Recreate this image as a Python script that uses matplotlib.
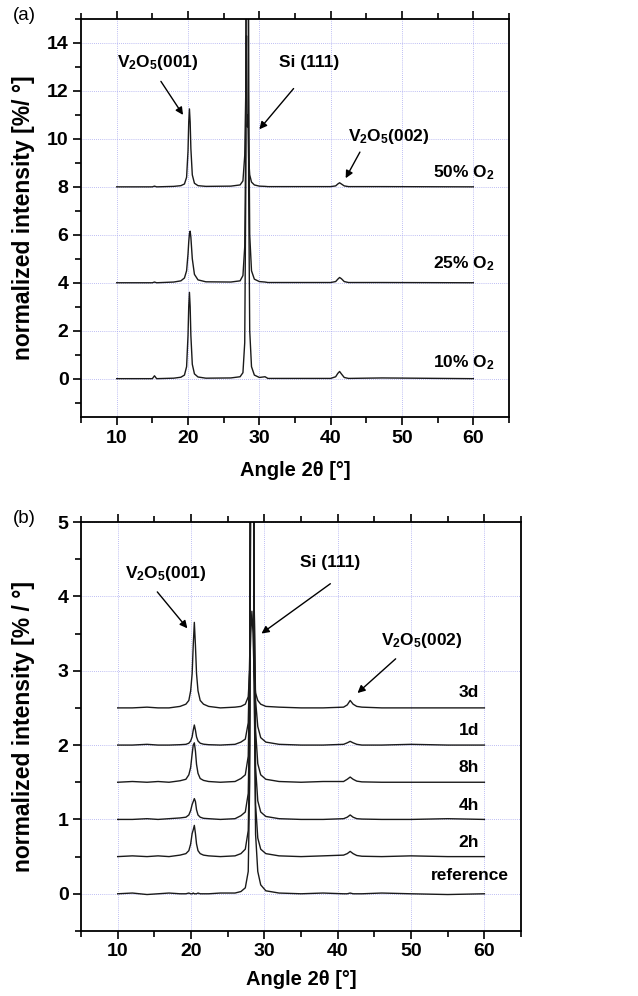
import matplotlib.pyplot as plt
from matplotlib.ticker import MultipleLocator

plt.rcParams['font.family'] = ['Liberation Sans', 'DejaVu Sans']
plt.rcParams['font.weight'] = 'bold'
plt.rcParams['axes.labelweight'] = 'bold'
plt.rcParams['mathtext.fontset'] = 'custom'
plt.rcParams['mathtext.rm'] = 'Liberation Sans:bold'
plt.rcParams['mathtext.it'] = 'Liberation Sans:bold'
plt.rcParams['mathtext.bf'] = 'Liberation Sans:bold'

# (a) films grown at different O2 partial pressure
angle_a = [10.0, 15.0, 15.3, 15.6, 18.0, 19.0, 19.5, 19.8, 20.0, 20.1, 20.2, 20.3, 20.4,
           20.6, 20.9, 21.4, 22.5, 26.0, 27.3, 27.7, 27.95, 28.1, 28.2, 28.3, 28.4, 28.5,
           28.65, 28.9, 29.3, 30.0, 30.8, 31.2, 40.0, 40.7, 41.0, 41.25, 41.5, 41.9, 42.5,
           47.2, 60.0]
o2_10 = [0, 0, 0.12, 0, 0.02, 0.06, 0.15, 0.5, 1.8, 3.0, 3.6, 3.0, 1.8,
         0.6, 0.2, 0.07, 0.02, 0.03, 0.08, 0.25, 1.5, 8.0, 30.0, 60.0, 30.0, 8.0,
         2.0, 0.5, 0.15, 0.05, 0.08, 0.01, 0.01, 0.08, 0.22, 0.3, 0.2, 0.05, 0.01,
         0.03, 0.0]
o2_25 = [0, 0, 0.03, 0, 0.03, 0.08, 0.2, 0.5, 1.2, 1.7, 2.05, 2.15, 1.9,
         1.0, 0.35, 0.12, 0.04, 0.03, 0.08, 0.3, 1.5, 6.0, 20.0, 40.0, 25.0, 8.0,
         2.0, 0.5, 0.15, 0.05, 0.03, 0.01, 0.01, 0.05, 0.15, 0.22, 0.17, 0.05, 0.01,
         0.01, 0.0]
o2_50 = [0, 0, 0.03, 0, 0.02, 0.05, 0.12, 0.4, 1.5, 2.7, 3.25, 2.7, 1.6,
         0.5, 0.15, 0.05, 0.02, 0.03, 0.08, 0.25, 1.3, 4.0, 6.3, 2.5, 3.0, 1.2,
         0.5, 0.2, 0.08, 0.03, 0.02, 0.01, 0.01, 0.04, 0.12, 0.17, 0.12, 0.04, 0.01,
         0.01, 0.0]
curves_a = [o2_10, o2_25, o2_50]
offsets_a = [0, 4, 8]
names_a = [r'10% O$_{2}$', r'25% O$_{2}$', r'50% O$_{2}$']
name_y_a = [0.68, 4.8, 8.6]

# (b) annealing series
angle_b = [10.0, 12.0, 14.0, 15.5, 17.0, 18.5, 19.3, 19.7, 19.95, 20.15, 20.3, 20.45,
           20.6, 20.75, 20.95, 21.25, 21.7, 22.4, 24.0, 26.0, 26.8, 27.4, 27.8, 28.0,
           28.15, 28.3, 28.45, 28.6, 28.8, 29.1, 29.5, 30.2, 32.0, 35.0, 38.0, 40.8,
           41.3, 41.7, 42.1, 42.6, 43.3, 46.0, 50.0, 55.0, 60.0]
t_ref = [0.0, 0.01, -0.01, 0.0, 0.01, 0.0, 0.0, 0.01, 0.0, 0.0, 0.01, 0.0,
         0.0, 0.0, 0.01, 0.0, 0.0, 0.0, 0.01, 0.01, 0.03, 0.08, 0.3, 1.5,
         6.0, 20.0, 12.0, 3.0, 0.8, 0.3, 0.12, 0.04, 0.01, 0.0, 0.01, 0.0,
         0.0, 0.01, 0.0, 0.0, 0.0, 0.01, 0.0, -0.01, 0.0]
t_2h = [0.0, 0.01, 0.0, 0.01, 0.0, 0.02, 0.04, 0.08, 0.17, 0.31, 0.36, 0.42,
        0.31, 0.17, 0.08, 0.04, 0.02, 0.01, 0.0, 0.01, 0.04, 0.1, 0.35, 1.5,
        6.0, 15.0, 10.0, 2.5, 0.7, 0.25, 0.1, 0.04, 0.01, 0.0, 0.01, 0.02,
        0.04, 0.07, 0.04, 0.015, 0.005, 0.0, 0.01, 0.0, 0.0]
t_4h = [0.0, 0.0, 0.01, 0.0, 0.01, 0.02, 0.03, 0.06, 0.12, 0.2, 0.24, 0.28,
        0.24, 0.13, 0.06, 0.03, 0.015, 0.01, 0.0, 0.01, 0.05, 0.1, 0.35, 1.5,
        6.0, 15.0, 10.0, 2.5, 0.7, 0.25, 0.1, 0.04, 0.01, 0.0, 0.0, 0.01,
        0.03, 0.06, 0.03, 0.01, 0.005, 0.0, 0.0, 0.01, 0.0]
t_8h = [0.0, 0.01, 0.0, 0.01, 0.0, 0.02, 0.04, 0.1, 0.2, 0.38, 0.5, 0.53,
        0.42, 0.24, 0.12, 0.05, 0.025, 0.01, 0.0, 0.01, 0.05, 0.1, 0.35, 1.5,
        6.0, 15.0, 10.0, 2.5, 0.7, 0.25, 0.1, 0.04, 0.01, 0.0, 0.01, 0.01,
        0.04, 0.07, 0.04, 0.015, 0.005, 0.0, 0.0, 0.0, 0.0]
t_1d = [0.0, 0.0, 0.01, 0.0, 0.0, 0.005, 0.01, 0.025, 0.055, 0.11, 0.2, 0.27,
        0.2, 0.11, 0.055, 0.025, 0.012, 0.005, 0.0, 0.01, 0.04, 0.08, 0.3, 1.2,
        5.0, 12.0, 8.0, 2.0, 0.6, 0.25, 0.1, 0.04, 0.01, 0.0, 0.0, 0.01,
        0.03, 0.05, 0.03, 0.01, 0.0, 0.0, 0.01, 0.0, 0.0]
t_3d = [0.0, 0.0, 0.01, 0.0, 0.0, 0.02, 0.05, 0.1, 0.23, 0.46, 0.84, 1.15,
        0.84, 0.46, 0.23, 0.1, 0.05, 0.02, 0.0, 0.01, 0.02, 0.05, 0.15, 0.5,
        1.0, 1.3, 1.0, 0.45, 0.2, 0.1, 0.05, 0.02, 0.01, 0.0, 0.0, 0.01,
        0.04, 0.1, 0.05, 0.02, 0.01, 0.0, 0.0, 0.0, 0.0]
curves_b = [t_ref, t_2h, t_4h, t_8h, t_1d, t_3d]
offsets_b = [0, 0.5, 1.0, 1.5, 2.0, 2.5]
names_b = ['reference', '2h', '4h', '8h', '1d', '3d']
name_y_b = [0.25, 0.69, 1.19, 1.70, 2.2, 2.71]


def style_axes(ax, ymin, ymax, ymajor, yminor, ylabel, label_x):
    ax.set_xlim(5, 65)
    ax.set_ylim(ymin, ymax)
    ax.xaxis.set_major_locator(MultipleLocator(10))
    ax.xaxis.set_minor_locator(MultipleLocator(5))
    ax.yaxis.set_major_locator(MultipleLocator(ymajor))
    ax.yaxis.set_minor_locator(MultipleLocator(yminor))
    ax.tick_params(which='both', direction='out', top=True, right=False,
                   labelsize=14, width=1.2)
    ax.tick_params(which='major', length=6, pad=3)
    ax.tick_params(which='minor', length=4)
    for lbl in ax.get_xticklabels() + ax.get_yticklabels():
        lbl.set_fontweight('bold')
    ax.grid(True, which='major', ls=(0, (1, 1.5)), color='#a8a8f0', lw=0.6)
    for s in ax.spines.values():
        s.set_linewidth(1.3)
    ax.set_xlabel(u'Angle 2\u03b8 [\u00b0]', fontsize=14.5, fontweight='bold')
    ax.set_ylabel(ylabel, fontsize=16.5, fontweight='bold')
    ax.yaxis.set_label_coords(label_x, 0.5)


def arrow(ax, tail, tip):
    ax.annotate('', xy=tip, xytext=tail,
                arrowprops=dict(arrowstyle='-|>', color='k', lw=1.0,
                                mutation_scale=11, shrinkA=0, shrinkB=0))


fig = plt.figure(figsize=(6.38, 9.96), dpi=100)
ax_a = fig.add_axes([0.127, 0.5813, 0.6708, 0.3996])
ax_b = fig.add_axes([0.127, 0.0653, 0.6897, 0.4106])

for y, off in zip(curves_a, offsets_a):
    ax_a.plot(angle_a, [v + off for v in y], color='#1a1a1a', lw=1.0)
for name, ny in zip(names_a, name_y_a):
    ax_a.text(63.0, ny, name, ha='right', va='center', fontsize=12.5)
style_axes(ax_a, -1.6, 15, 2, 1, u'normalized intensity [%/ \u00b0]', -0.107)
ax_a.xaxis.set_label_coords(0.5, -0.11)
ax_a.text(15.8, 13.2, r'V$_{2}$O$_{5}$(001)', ha='center', va='center', fontsize=12.5)
arrow(ax_a, (16.2, 12.4), (19.3, 11.0))
ax_a.text(37.0, 13.2, 'Si (111)', ha='center', va='center', fontsize=12.5)
arrow(ax_a, (34.8, 12.1), (30.0, 10.4))
ax_a.text(48.2, 10.1, r'V$_{2}$O$_{5}$(002)', ha='center', va='center', fontsize=12.5)
arrow(ax_a, (44.1, 9.45), (42.1, 8.36))
fig.text(13 / 638, 1 - 15 / 996, '(a)', fontsize=13.5, fontweight='normal',
         ha='left', va='center')

for y, off in zip(curves_b, offsets_b):
    ax_b.plot(angle_b, [v + off for v in y], color='#1a1a1a', lw=1.0)
for name, ny in zip(names_b, name_y_b):
    xr = 63.4 if name == 'reference' else 59.3
    ax_b.text(xr, ny, name, ha='right', va='center', fontsize=12.5)
style_axes(ax_b, -0.5, 5, 1, 0.5, u'normalized intensity [% / \u00b0]', -0.105)
ax_b.xaxis.set_label_coords(0.5, -0.095)
ax_b.text(16.5, 4.31, r'V$_{2}$O$_{5}$(001)', ha='center', va='center', fontsize=12.5)
arrow(ax_b, (15.4, 4.06), (19.5, 3.57))
ax_b.text(38.9, 4.46, 'Si (111)', ha='center', va='center', fontsize=12.5)
arrow(ax_b, (39.0, 4.17), (29.6, 3.5))
ax_b.text(51.5, 3.41, r'V$_{2}$O$_{5}$(002)', ha='center', va='center', fontsize=12.5)
arrow(ax_b, (47.9, 3.16), (42.7, 2.7))
fig.text(13 / 638, 1 - 518 / 996, '(b)', fontsize=13.5, fontweight='normal',
         ha='left', va='center')

fig.savefig('out.png', dpi=100)
